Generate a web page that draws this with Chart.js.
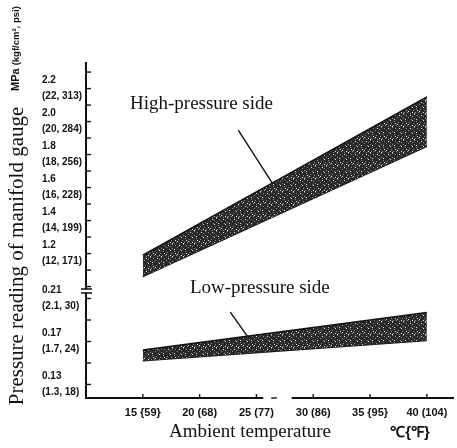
<!DOCTYPE html>
<html>
<head>
<meta charset="utf-8">
<script src="https://cdn.jsdelivr.net/npm/chart.js@4/dist/chart.umd.min.js"></script>
<style>
  html, body { margin: 0; padding: 0; background: #fff; }
  #wrap { width: 457px; height: 448px; }
</style>
</head>
<body>
<div id="wrap"><canvas id="gaugeChart"></canvas></div>
<script>
// ambient temperature at the band ends (deg C)
const temps = [15, 40];
// high-pressure side band, MPa
const highUpper = [1.19, 2.15];
const highLower = [1.06, 1.85];
// low-pressure side band, MPa
const lowUpper = [0.162, 0.197];
const lowLower = [0.152, 0.171];

const xTicks = [15, 20, 25, 30, 35, 40];
const xTickLabels = ['15 {59}', '20 (68)', '25 (77)', '30 (86)', '35 {95}', '40 (104)'];

const highTicks = [1.0, 1.1, 1.2, 1.3, 1.4, 1.5, 1.6, 1.7, 1.8, 1.9, 2.0, 2.1, 2.2, 2.3];
const highLabelValues = [1.2, 1.4, 1.6, 1.8, 2.0, 2.2];
const highLabelText = [
    ['1.2', '(12, 171)'], ['1.4', '(14, 199)'], ['1.6', '(16, 228)'],
    ['1.8', '(18, 256)'], ['2.0', '(20, 284)'], ['2.2', '(22, 313)']
];
const lowTicks = [0.13, 0.15, 0.17, 0.19, 0.21];
const lowLabelValues = [0.13, 0.17, 0.21];
const lowLabelText = [['0.13', '(1.3, 18)'], ['0.17', '(1.7, 24)'], ['0.21', '(2.1, 30)']];

const serif = "'Liberation Serif', 'Times New Roman', serif";
const sans = "'Liberation Sans', Arial, sans-serif";

// fixed speckle tile for the shaded bands (hand placed, no randomness)
function stipple() {
    let c = document.createElement('canvas');
    c.width = 11; c.height = 13;
    let g = c.getContext('2d');
    g.fillStyle = '#2a2a2a';
    g.fillRect(0, 0, 11, 13);
    g.fillStyle = '#8a8a8a';
    [[1, 0], [7, 1], [4, 2], [9, 4], [2, 5], [6, 6], [0, 8], [8, 8], [3, 9], [10, 11], [5, 12], [7, 10]]
        .forEach(p => g.fillRect(p[0], p[1], 1, 1));
    g.fillStyle = '#e6e6e6';
    [[5, 3], [9, 2], [1, 7], [7, 9], [3, 11], [10, 6], [5, 8]]
        .forEach(p => g.fillRect(p[0], p[1], 1, 1));
    return g.createPattern(c, 'repeat');
}

function pts(ys) {
    return temps.map((t, i) => ({ x: t, y: ys[i] }));
}

function labelFor(values, texts) {
    return (v) => {
        let i = values.findIndex(k => Math.abs(k - v) < 1e-6);
        return i < 0 ? '' : texts[i];
    };
}

const yTickFont = { family: sans, size: 10, weight: 'bold', lineHeight: 1.6 };
const xTickFont = { family: sans, size: 11, weight: 'bold' };

const notes = {
    high: { text: 'High-pressure side', x: 13.87, y: 2.106, axis: 'yHigh', leader: [[23.4, 1.948], [26.4, 1.627]] },
    low: { text: 'Low-pressure side', x: 19.15, y: 0.2198, axis: 'yLow', leader: [[22.7, 0.1974], [24.3, 0.1733]] }
};

const decorations = {
    id: 'decorations',
    afterDraw(chart) {
        let ctx = chart.ctx;
        let area = chart.chartArea;
        let sx = chart.scales.x;
        let ax = area.left;
        ctx.save();
        ctx.strokeStyle = '#111';
        ctx.lineWidth = 1.4;

        // inward tick marks
        ['yHigh', 'yLow'].forEach(id => {
            let s = chart.scales[id];
            s.ticks.forEach(t => {
                let py = s.getPixelForValue(t.value);
                ctx.beginPath(); ctx.moveTo(ax, py); ctx.lineTo(ax + 5, py); ctx.stroke();
            });
        });
        sx.ticks.forEach(t => {
            let px = sx.getPixelForValue(t.value);
            ctx.beginPath(); ctx.moveTo(px, area.bottom); ctx.lineTo(px, area.bottom - 4); ctx.stroke();
        });

        // axis break on y
        let by = chart.scales.yLow.top;
        ctx.fillStyle = '#fff';
        ctx.fillRect(ax - 3, by - 1.5, 6, 3);
        ctx.beginPath();
        ctx.moveTo(ax - 5, by - 2); ctx.lineTo(ax + 6, by - 2);
        ctx.moveTo(ax - 5, by + 2); ctx.lineTo(ax + 6, by + 2);
        ctx.stroke();

        // axis break on x
        let g0 = sx.getPixelForValue(25.6), g1 = sx.getPixelForValue(28.1);
        ctx.fillRect(g0, area.bottom - 2, g1 - g0, 4);
        ctx.beginPath();
        ctx.moveTo(sx.getPixelForValue(26.3), area.bottom);
        ctx.lineTo(sx.getPixelForValue(26.8), area.bottom);
        ctx.stroke();

        // notes and leader lines
        ctx.fillStyle = '#111';
        ctx.font = '19px ' + serif;
        ctx.textBaseline = 'middle';
        ctx.textAlign = 'left';
        Object.values(notes).forEach(n => {
            let s = chart.scales[n.axis];
            ctx.fillText(n.text, sx.getPixelForValue(n.x), s.getPixelForValue(n.y));
            let [a, b] = n.leader;
            ctx.beginPath();
            ctx.moveTo(sx.getPixelForValue(a[0]), s.getPixelForValue(a[1]));
            ctx.lineTo(sx.getPixelForValue(b[0]), s.getPixelForValue(b[1]));
            ctx.stroke();
        });

        // axis titles
        ctx.textAlign = 'center';
        ctx.fillText('Ambient temperature', 250, 432);
        ctx.font = 'bold 15px ' + sans;
        ctx.fillText('\u2103{\u2109}', 410, 433);

        ctx.save();
        ctx.translate(17, 256);
        ctx.rotate(-Math.PI / 2);
        ctx.font = '21px ' + serif;
        ctx.fillText('Pressure reading of manifold gauge', 0, 0);
        ctx.restore();

        // unit caption, read bottom to top
        ctx.save();
        ctx.translate(16, 91);
        ctx.rotate(-Math.PI / 2);
        ctx.textAlign = 'left';
        ctx.font = 'bold 11px ' + sans;
        ctx.fillText('MPa', 0, 0);
        let w = ctx.measureText('MPa ').width;
        ctx.font = 'bold 9.5px ' + sans;
        ctx.fillText('(kgf/cm\u00b2, psi)', w, 0);
        ctx.restore();

        ctx.restore();
    }
};

const fill = stipple();
const bandStyle = { borderColor: '#111', borderWidth: 1.5, pointRadius: 0, tension: 0, backgroundColor: fill };

new Chart(document.getElementById('gaugeChart'), {
    type: 'line',
    data: {
        datasets: [
            { ...bandStyle, label: 'High upper', data: pts(highUpper), yAxisID: 'yHigh', fill: '+1' },
            { ...bandStyle, label: 'High lower', data: pts(highLower), yAxisID: 'yHigh', fill: false },
            { ...bandStyle, label: 'Low upper', data: pts(lowUpper), yAxisID: 'yLow', fill: '+1' },
            { ...bandStyle, label: 'Low lower', data: pts(lowLower), yAxisID: 'yLow', fill: false }
        ]
    },
    options: {
        responsive: true,
        maintainAspectRatio: false,
        animation: false,
        layout: { padding: { top: 63, right: 4, bottom: 0, left: 42 } },
        plugins: { legend: { display: false }, tooltip: { enabled: false } },
        scales: {
            x: {
                type: 'linear',
                min: 10,
                max: 42.3,
                afterBuildTicks: (s) => { s.ticks = xTicks.map(v => ({ value: v })); },
                afterFit: (s) => { s.height = 50; },
                grid: { drawOnChartArea: false, drawTicks: false },
                border: { color: '#111', width: 2 },
                ticks: {
                    color: '#111',
                    font: xTickFont,
                    padding: 8,
                    maxRotation: 0,
                    autoSkip: false,
                    callback: (v, i) => xTickLabels[i]
                }
            },
            yLow: {
                type: 'linear',
                position: 'left',
                stack: 'gauge',
                stackWeight: 107,
                min: 0.1174,
                max: 0.217,
                afterBuildTicks: (s) => { s.ticks = lowTicks.map(v => ({ value: v })); },
                afterFit: (s) => { s.width = 44; },
                grid: { drawOnChartArea: false, drawTicks: false },
                border: { color: '#111', width: 2 },
                ticks: {
                    color: '#111', font: yTickFont, padding: 6, crossAlign: 'far', autoSkip: false,
                    callback: labelFor(lowLabelValues, lowLabelText)
                }
            },
            yHigh: {
                type: 'linear',
                position: 'left',
                stack: 'gauge',
                stackWeight: 228,
                min: 0.973,
                max: 2.355,
                afterBuildTicks: (s) => { s.ticks = highTicks.map(v => ({ value: v })); },
                afterFit: (s) => { s.width = 44; },
                grid: { drawOnChartArea: false, drawTicks: false },
                border: { color: '#111', width: 2 },
                ticks: {
                    color: '#111', font: yTickFont, padding: 6, crossAlign: 'far', autoSkip: false,
                    callback: labelFor(highLabelValues, highLabelText)
                }
            }
        }
    },
    plugins: [decorations]
});
</script>
</body>
</html>
